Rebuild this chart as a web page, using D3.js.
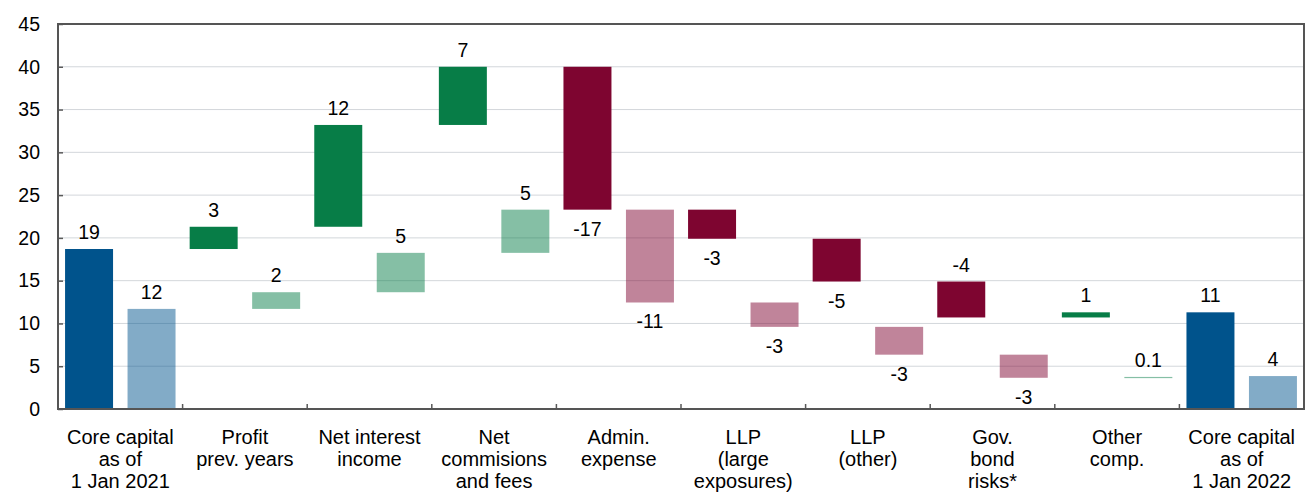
<!DOCTYPE html>
<html>
<head>
<meta charset="utf-8">
<script src="https://cdn.jsdelivr.net/npm/d3@7"></script>
<style>
  body { margin: 0; background: #fff; }
  text { font-family: Arial, "Liberation Sans", sans-serif; fill: #000; }
</style>
</head>
<body>
<svg id="chart" width="1306" height="492"></svg>
<script>
// categories along the x axis (line breaks as in the original)
var categories = [
    "Core capital\nas of\n1 Jan 2021",
    "Profit\nprev. years",
    "Net interest\nincome",
    "Net\ncommisions\nand fees",
    "Admin.\nexpense",
    "LLP\n(large\nexposures)",
    "LLP\n(other)",
    "Gov.\nbond\nrisks*",
    "Other\ncomp.",
    "Core capital\nas of\n1 Jan 2022"
];

// first and last are levels, the rest are changes
var darkValues = [18.7, 2.6, 11.9, 6.8, -16.7, -3.4, -5.0, -4.2, 0.6, 11.3];
var lightValues = [11.7, 1.95, 4.6, 5.05, -10.85, -2.85, -3.25, -2.7, 0.1, 3.85];

var darkLabels = ["19", "3", "12", "7", "-17", "-3", "-5", "-4", "1", "11"];
var lightLabels = ["12", "2", "5", "5", "-11", "-3", "-3", "-3", "0.1", "4"];

var yTicks = [0, 5, 10, 15, 20, 25, 30, 35, 40, 45];

function draw() {
    var svg = d3.select("#chart");
    var width = +svg.attr("width"),
        height = +svg.attr("height");
    var margin = { top: 24, right: 2, bottom: 83, left: 58 };
    var w = width - margin.left - margin.right,
        h = height - margin.top - margin.bottom;

    var g = svg.append("g")
        .attr("transform", "translate(" + margin.left + "," + margin.top + ")");

    var x = d3.scaleBand().domain(d3.range(categories.length)).range([0, w]).padding(0);
    var xInner = d3.scaleBand().domain(["dark", "light"]).range([0, x.bandwidth()])
        .paddingInner(0.232).paddingOuter(0.113);
    var y = d3.scaleLinear().domain([0, 45]).range([h, 0]);

    var colors = {
        total: "#00538C",
        up: "#077D47",
        down: "#7E0530"
    };

    // grid
    g.selectAll(".grid").data(yTicks.slice(1, -1)).enter().append("line")
        .attr("x1", 0).attr("x2", w)
        .attr("y1", function(d) { return y(d); })
        .attr("y2", function(d) { return y(d); })
        .attr("stroke", "#D3D7DB").attr("stroke-width", 1);

    // waterfall segments for both series
    function build(values, labels, key) {
        var run = 0, out = [];
        values.forEach(function(v, i) {
            var last = i === values.length - 1, first = i === 0;
            var lo, hi, type;
            if (first || last) {
                lo = 0; hi = v; type = "total"; run = v;
            } else {
                lo = Math.min(run, run + v); hi = Math.max(run, run + v);
                type = v >= 0 ? "up" : "down";
                run += v;
            }
            out.push({ i: i, key: key, lo: lo, hi: hi, type: type, v: v, label: labels[i] });
        });
        return out;
    }
    var segs = build(darkValues, darkLabels, "dark").concat(build(lightValues, lightLabels, "light"));

    // labels that sit on the opposite side in the original
    var flipped = { "dark-7": true };

    g.selectAll(".bar").data(segs).enter().append("rect")
        .attr("x", function(d) { return x(d.i) + xInner(d.key); })
        .attr("width", xInner.bandwidth())
        .attr("y", function(d) { return y(d.hi); })
        .attr("height", function(d) { return Math.max(1.2, y(d.lo) - y(d.hi)); })
        .attr("fill", function(d) { return colors[d.type]; })
        .attr("fill-opacity", function(d) { return d.key === "light" ? 0.49 : 1; });

    g.selectAll(".val").data(segs).enter().append("text")
        .attr("x", function(d) { return x(d.i) + xInner(d.key) + xInner.bandwidth() / 2; })
        .attr("y", function(d) {
            var below = d.v < 0;
            if (flipped[d.key + "-" + d.i]) below = !below;
            return below ? y(d.lo) + 26 : y(d.hi) - 10;
        })
        .attr("text-anchor", "middle")
        .style("font-size", "19.5px")
        .text(function(d) { return d.label; });

    // y axis with inward ticks
    var yAxis = g.append("g")
        .call(d3.axisLeft(y).tickValues(yTicks).tickSize(-5).tickPadding(18));
    yAxis.select(".domain").remove();
    yAxis.selectAll("line").attr("stroke", "#595959").attr("stroke-width", 1.5);
    yAxis.selectAll("text").style("font-size", "19.5px").style("font-family", "Arial, 'Liberation Sans', sans-serif").attr("fill", "#000");

    // bottom ticks between groups
    g.selectAll(".xtick").data(d3.range(1, categories.length)).enter().append("line")
        .attr("x1", function(d) { return x(d); }).attr("x2", function(d) { return x(d); })
        .attr("y1", h).attr("y2", h - 5)
        .attr("stroke", "#595959").attr("stroke-width", 1.5);

    // frame
    g.append("rect")
        .attr("x", 0).attr("y", 0).attr("width", w).attr("height", h)
        .attr("fill", "none").attr("stroke", "#555").attr("stroke-width", 2);

    // category labels
    var cat = g.selectAll(".cat").data(categories).enter().append("text")
        .attr("text-anchor", "middle")
        .style("font-size", "20px")
        .attr("transform", function(d, i) {
            return "translate(" + (x(i) + x.bandwidth() / 2) + "," + (h + 35) + ")";
        });
    cat.selectAll("tspan").data(function(d) { return d.split("\n"); }).enter().append("tspan")
        .attr("x", 0)
        .attr("dy", function(d, i) { return i === 0 ? 0 : 22; })
        .text(function(d) { return d; });
}

draw();
</script>
</body>
</html>
